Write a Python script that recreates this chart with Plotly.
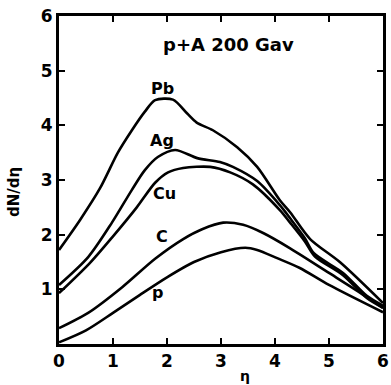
import plotly.graph_objects as go

# Data (eta, dN/deta)
pb_x = [0, 0.39, 0.76, 1.09, 1.35, 1.59, 1.78, 2.11, 2.37, 2.55, 2.85, 3.30, 3.67, 4.09, 4.28, 4.65, 5.2, 6]
pb_y = [1.72, 2.27, 2.85, 3.50, 3.91, 4.25, 4.46, 4.47, 4.22, 4.05, 3.91, 3.60, 3.24, 2.63, 2.41, 1.92, 1.50, 0.75]

ag_x = [0, 0.54, 0.98, 1.35, 1.59, 1.83, 2.15, 2.56, 2.98, 3.22, 3.67, 4.09, 4.28, 4.55, 4.72, 5.26, 5.70, 6]
ag_y = [1.08, 1.59, 2.22, 2.82, 3.18, 3.42, 3.55, 3.40, 3.33, 3.24, 2.98, 2.54, 2.30, 1.94, 1.66, 1.30, 0.88, 0.70]

cu_x = [0, 0.57, 1.0, 1.44, 1.78, 2.02, 2.30, 2.80, 3.17, 3.59, 4.09, 4.28, 4.55, 4.74, 5.26, 5.70, 6]
cu_y = [0.93, 1.48, 1.97, 2.50, 2.95, 3.14, 3.22, 3.24, 3.14, 2.92, 2.45, 2.22, 1.88, 1.60, 1.26, 0.84, 0.66]

c_x = [0, 0.54, 1.17, 1.78, 2.30, 2.65, 3.04, 3.41, 3.78, 4.28, 5.0, 5.7, 6]
c_y = [0.29, 0.57, 1.04, 1.56, 1.92, 2.10, 2.22, 2.18, 2.03, 1.75, 1.30, 0.86, 0.66]

p_x = [0, 0.5, 1.0, 1.5, 2.0, 2.5, 3.0, 3.45, 3.67, 4.04, 4.46, 5.0, 6]
p_y = [0.03, 0.25, 0.57, 0.90, 1.22, 1.50, 1.68, 1.76, 1.72, 1.57, 1.39, 1.08, 0.58]

labels = ["Pb", "Ag", "Cu", "C", "p"]
label_x = [1.91, 1.91, 1.96, 1.91, 1.83]
label_y = [4.68, 3.73, 2.76, 1.96, 0.95]

x_ticks = [0, 1, 2, 3, 4, 5, 6]
y_ticks = [1, 2, 3, 4, 5, 6]
title_text = "p+A 200 Gav"

font_family = "DejaVu Sans, Liberation Sans, sans-serif"

fig = go.Figure()
for xs, ys in [(pb_x, pb_y), (ag_x, ag_y), (cu_x, cu_y), (c_x, c_y), (p_x, p_y)]:
    fig.add_trace(go.Scatter(x=xs, y=ys, mode="lines",
                             line=dict(color="black", width=2.6, shape="spline", smoothing=0.8),
                             showlegend=False, hoverinfo="skip"))

for t, lx, ly in zip(labels, label_x, label_y):
    fig.add_annotation(x=lx, y=ly, text=t, showarrow=False,
                       font=dict(family=font_family, size=16, color="black", weight="bold"))

fig.add_annotation(x=3.13, y=5.47, text=title_text, showarrow=False,
                   font=dict(family=font_family, size=18, color="black", weight="bold"))

fig.add_annotation(xref="paper", yref="paper", x=-0.139, y=0.463, text="dN/dη",
                   xanchor="center", yanchor="middle",
                   textangle=-90, showarrow=False,
                   font=dict(family=font_family, size=15, color="black", weight="bold"))
fig.add_annotation(xref="paper", yref="paper", x=0.574, y=-0.098, text="η",
                   xanchor="center", yanchor="middle",
                   showarrow=False,
                   font=dict(family=font_family, size=14, color="black", weight="bold"))

axis_common = dict(showline=True, linecolor="black", linewidth=3, mirror="ticks",
                   ticks="inside", ticklen=6, tickwidth=2, tickcolor="black",
                   showgrid=False, zeroline=False, automargin=False,
                   ticklabeloverflow="allow",
                   tickfont=dict(family=font_family, size=17, color="black", weight="bold"))

fig.update_xaxes(range=[0, 6], tickvals=x_ticks, ticktext=[str(v) for v in x_ticks], **axis_common)
fig.update_yaxes(range=[0, 6], tickvals=y_ticks, ticktext=[str(v) for v in y_ticks], **axis_common)

fig.update_layout(width=391, height=385, margin=dict(l=59, r=8, t=16, b=41, autoexpand=False),
                  plot_bgcolor="white", paper_bgcolor="white", showlegend=False)

# remove the default page margin so the 391x385 figure fills the window exactly
fig.write_html("out.html", config={"displayModeBar": False},
               post_script="document.body.style.margin='0';document.body.style.overflow='hidden';")
